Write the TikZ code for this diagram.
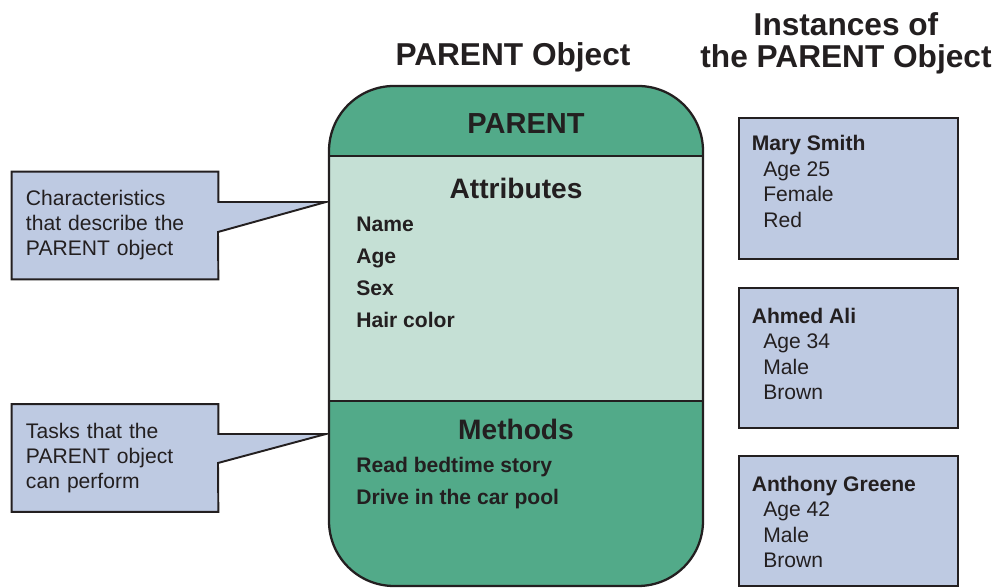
\documentclass[tikz,border=0pt]{standalone}
\usepackage{fontspec}
\setmainfont{Liberation Sans}
\usepackage{xcolor}
\definecolor{objGreen}{RGB}{82,170,137}
\definecolor{attrGreen}{RGB}{197,224,213}
\definecolor{noteBlue}{RGB}{190,202,226}
\definecolor{inkDark}{RGB}{35,31,32}
\usepackage{tikz}
\usetikzlibrary{positioning,backgrounds}

\begin{document}
\begin{tikzpicture}[
    outline/.style={
        draw=inkDark, line width=1.3pt
    },
    titleText/.style={
        font=\fontsize{18}{18.2}\selectfont\bfseries,
        text=inkDark, inner sep=0pt, align=center
    },
    headText/.style={
        font=\fontsize{16}{19}\selectfont\bfseries,
        text=inkDark, inner sep=0pt, anchor=base
    },
    itemText/.style={
        font=\fontsize{12}{14.4}\selectfont\bfseries,
        text=inkDark, inner sep=0pt, anchor=base west
    },
    noteBox/.style={
        rectangle, minimum width=4.12cm, minimum height=2.14cm,
        text width=3.56cm, inner xsep=0.28cm, align=left,
        font=\fontsize{12}{14.2}\selectfont, text=inkDark
    },
    noteShape/.style={
        outline, line width=1.1pt, fill=noteBlue
    },
    instBox/.style={
        rectangle, outline, fill=noteBlue, minimum width=4.38cm
    },
    instText/.style={
        font=\fontsize{12}{14.5}\selectfont, text=inkDark,
        inner sep=0pt, align=left, anchor=north west
    }
]

    \useasboundingbox (0,0) rectangle (19.94,11.76);

    % Titles
    \node[titleText, anchor=base] (tParent) at (10.26,10.45) {PARENT Object};
    \node[titleText, anchor=north] (tInst) at (16.92,11.51) {Instances of\\the PARENT Object};

    % Object body
    \fill[objGreen, rounded corners=1.3cm] (6.58,0.04) rectangle (14.06,10.04);
    \fill[attrGreen] (6.58,3.74) rectangle (14.06,8.64);
    \draw[outline] (6.58,8.64) -- (14.06,8.64);
    \draw[outline] (6.58,3.74) -- (14.06,3.74);
    \node[outline, rectangle, rounded corners=1.3cm,
          minimum width=7.48cm, minimum height=10cm] (parent) at (10.32,5.04) {};

    \node[headText, font=\fontsize{16.5}{19}\selectfont\bfseries] (hName) at (10.52,9.08) {PARENT};
    \node[headText] (hAttr) at (10.32,7.78) {Attributes};
    \node[headText] (hMeth) at (10.32,2.96) {Methods};

    \node[itemText] (aName) at (7.12,7.13) {Name};
    \node[itemText] (aAge) at (7.12,6.49) {Age};
    \node[itemText] (aSex) at (7.12,5.85) {Sex};
    \node[itemText] (aHair) at (7.12,5.21) {Hair color};

    \node[itemText] (mRead) at (7.12,2.31) {Read bedtime story};
    \node[itemText] (mDrive) at (7.12,1.67) {Drive in the car pool};

    % Callouts
    \node[noteBox] (nAttr) at (2.30,7.25) {Characteristics\\that describe the\\PARENT object};
    \node[noteBox] (nMeth) at (2.30,2.60) {Tasks that the\\PARENT object\\can perform};
    \coordinate (tipAttr) at (6.52,7.72);
    \coordinate (lowAttr) at (4.36,7.12);
    \coordinate (tipMeth) at (6.52,3.08);
    \coordinate (lowMeth) at (4.36,2.50);

    \begin{scope}[on background layer]
        \draw[noteShape] (nAttr.north west) -- (nAttr.north east) -- (nAttr.east |- tipAttr)
            -- (tipAttr) -- (lowAttr) -- (nAttr.south east) -- (nAttr.south west) -- cycle;
        \draw[noteShape] (nMeth.north west) -- (nMeth.north east) -- (nMeth.east |- tipMeth)
            -- (tipMeth) -- (lowMeth) -- (nMeth.south east) -- (nMeth.south west) -- cycle;
    \end{scope}

    % Instances
    \node[instBox, minimum height=2.82cm] (iMary) at (16.97,7.99) {};
    \node[instBox, minimum height=2.80cm] (iAhmed) at (16.97,4.60) {};
    \node[instBox, minimum height=2.60cm] (iAnthony) at (16.97,1.34) {};

    \node[instText] (tMary) at (15.03,9.06)
        {\textbf{Mary Smith}\\\hspace*{2.3mm}Age 25\\\hspace*{2.3mm}Female\\\hspace*{2.3mm}Red};
    \node[instText] (tAhmed) at (15.03,5.61)
        {\textbf{Ahmed Ali}\\\hspace*{2.3mm}Age 34\\\hspace*{2.3mm}Male\\\hspace*{2.3mm}Brown};
    \node[instText] (tAnthony) at (15.03,2.25)
        {\textbf{Anthony Greene}\\\hspace*{2.3mm}Age 42\\\hspace*{2.3mm}Male\\\hspace*{2.3mm}Brown};

\end{tikzpicture}
\end{document}
